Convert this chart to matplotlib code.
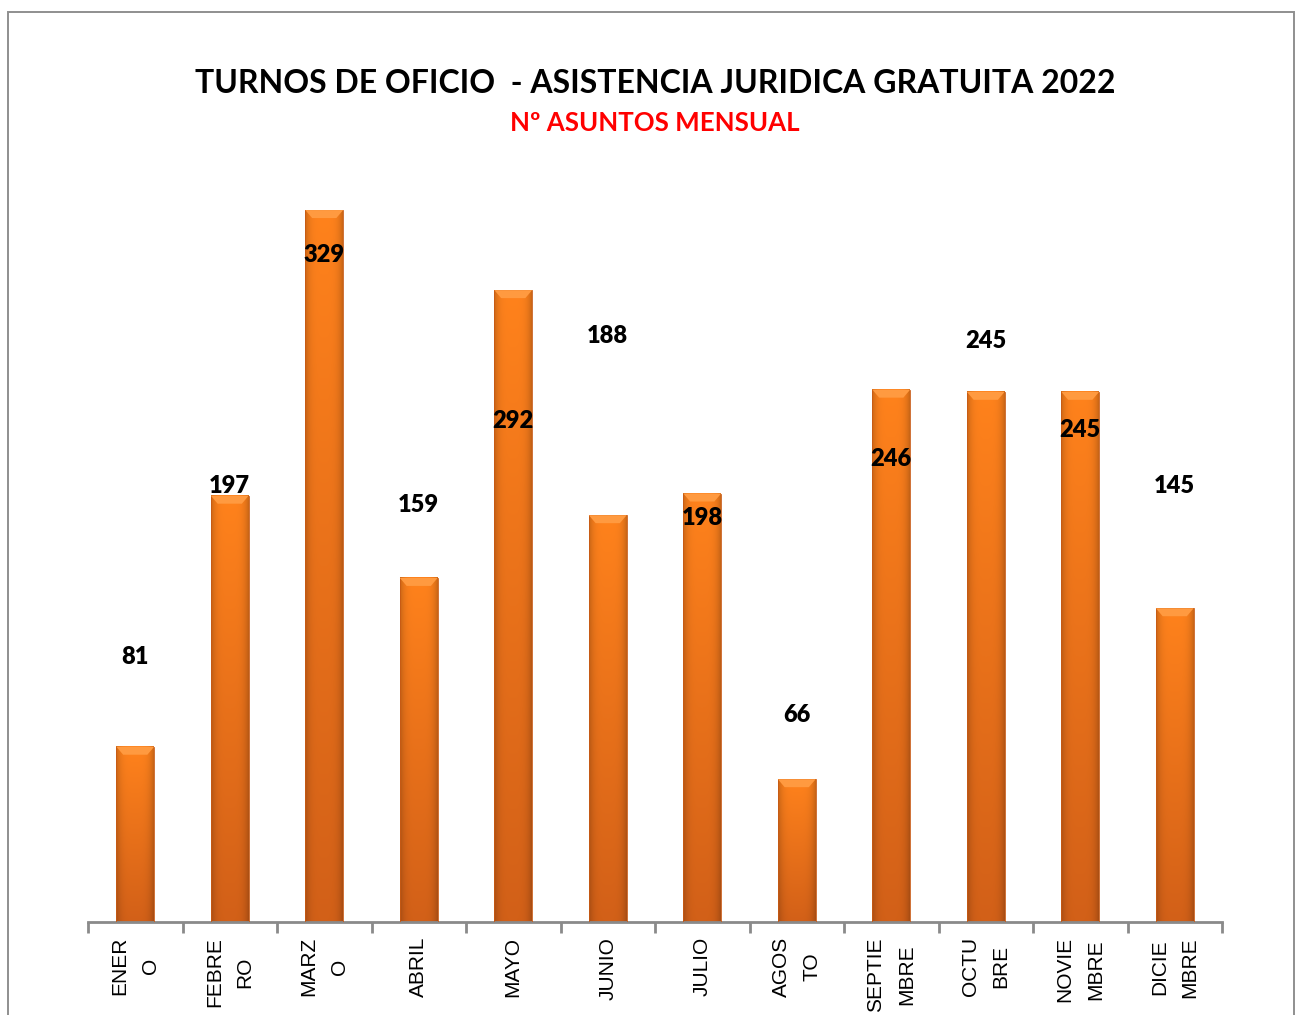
import numpy as np
import matplotlib
matplotlib.use("Agg")
import matplotlib.pyplot as plt
from matplotlib.patches import Rectangle, Polygon

# ---- data ----
months = ["ENER\nO", "FEBRE\nRO", "MARZ\nO", "ABRIL", "MAYO", "JUNIO", "JULIO",
          "AGOS\nTO", "SEPTIE\nMBRE", "OCTU\nBRE", "NOVIE\nMBRE", "DICIE\nMBRE"]
values = [81, 197, 329, 159, 292, 188, 198, 66, 246, 245, 245, 145]
# manual label heights (as placed in the original chart), in data units
label_y = [122.5, 201.5, 308, 192.7, 231.5, 270.8, 186.7, 95.7, 214, 268.5, 227.4, 201.5]

title = "TURNOS DE OFICIO  - ASISTENCIA JURIDICA GRATUITA 2022"
subtitle = "Nº ASUNTOS MENSUAL"

W, H = 1298, 1015
fig = plt.figure(figsize=(W / 100, H / 100), dpi=100)
fig.patch.set_facecolor("white")

# outer frame (bottom edge lies outside the picture)
fig.patches.append(Rectangle((8 / W, -0.05), (1294 - 8) / W, (H - 12) / H + 0.05,
                             transform=fig.transFigure, fill=False,
                             edgecolor="#8f8f8f", lw=1.4, zorder=0))

ymax = 360
px_per_unit = 2.164
ax_h = ymax * px_per_unit
ax = fig.add_axes([88 / W, 93 / H, (1222 - 88) / W, ax_h / H])
ax.set_xlim(-0.5, len(values) - 0.5)
ax.set_ylim(0, ymax)
ax.patch.set_alpha(0)

bw = 0.40
# gradient image
nv, nh = 200, 40
u = np.linspace(0, 1, nh)
shade = 1 - 0.2 * np.abs(2 * u - 1) ** 4
t = np.linspace(0, 1, nv)[:, None]  # 0 bottom -> 1 top
top_c = np.array([255, 130, 28]) / 255
bot_c = np.array([210, 96, 24]) / 255
base = bot_c[None, :] * (1 - t) + top_c[None, :] * t  # nv x 3
img = base[:, None, :] * shade[None, :, None]
img = np.clip(img, 0, 1)

bevel_units = 8 / px_per_unit
for i, v in enumerate(values):
    x0 = i - bw / 2
    ax.imshow(img, extent=[x0, x0 + bw, 0, v], origin="lower",
              aspect="auto", zorder=2, interpolation="bilinear")
    ax.add_patch(Rectangle((x0, 0), bw, v, fill=False, edgecolor="#c85a14",
                           lw=0.6, zorder=3))
    inset = bw * 0.18
    ax.add_patch(Polygon([[x0, v], [x0 + bw, v], [x0 + bw - inset, v - bevel_units],
                          [x0 + inset, v - bevel_units]], closed=True,
                         facecolor="#ff9a40", edgecolor="none", zorder=3))
    ax.text(i, label_y[i], str(v), ha="center", va="center", fontsize=17,
            fontweight="heavy", family="Lato", color="black", zorder=5)

ax.set_xlim(-0.5, len(values) - 0.5)
ax.set_ylim(0, ymax)

for s in ["left", "right", "top"]:
    ax.spines[s].set_visible(False)
ax.spines["bottom"].set_color("#8a8a8a")
ax.spines["bottom"].set_linewidth(2)
ax.set_yticks([])
ax.set_xticks(range(len(values)))
ax.set_xticklabels([])
ax.tick_params(axis="x", which="major", length=0)
ax.set_xticks(np.arange(-0.5, len(values), 1), minor=True)
ax.tick_params(axis="x", which="minor", length=8, width=2, color="#8a8a8a")

trans = ax.get_xaxis_transform()
for i, m in enumerate(months):
    ax.text(i, -15 / ax_h, m, transform=trans, rotation=90, ha="center", va="top",
            multialignment="center", linespacing=1.78, fontsize=15.0,
            family="Liberation Sans", color="black")

fig.text(655 / W, 1 - 84 / H, title, ha="center", va="center", fontsize=23,
         fontweight="bold", family="Lato", color="black")
fig.text(655 / W, 1 - 123 / H, subtitle, ha="center", va="center", fontsize=18.6,
         fontweight="bold", family="Lato", color="#ff0000")

fig.savefig("out.png", dpi=100)
